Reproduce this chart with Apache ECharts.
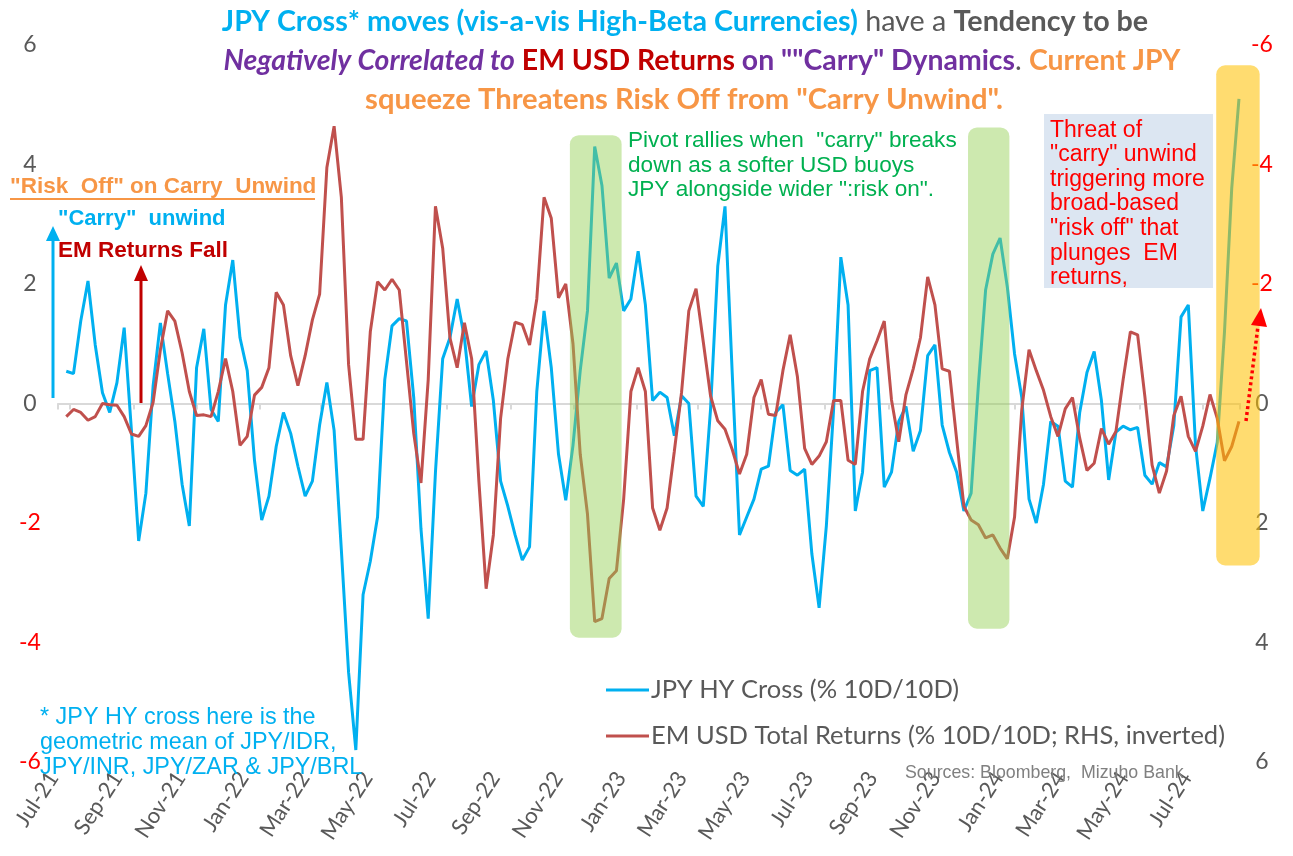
<!DOCTYPE html>
<html>
<head>
<meta charset="utf-8">
<script src="https://cdn.jsdelivr.net/npm/echarts@6/dist/echarts.min.js"></script>
<style>
  html, body { margin: 0; padding: 0; background: #ffffff; }
  #chart { width: 1293px; height: 856px; }
</style>
</head>
<body>
<div id="chart"></div>
<script>
// ---------------- DATA ----------------
// weekly observations, first one on 28 Jun 2021, one every 7 days
const firstObservation = [2021, 5, 28];
const observationStepDays = 7;

// JPY HY Cross (% 10D/10D) - left axis
const jpyHyCross = [
  0.54, 0.5, 1.38, 2.05, 0.98, 0.18, -0.15, 0.35, 1.27, -0.45,
  -2.3, -1.5, 0.3, 1.35, 0.5, -0.3, -1.35, -2.05, 0.6, 1.25,
  -0.1, -0.3, 1.65, 2.4, 1.1, 0.55, -0.95, -1.95, -1.55, -0.72,
  -0.15, -0.5, -1.05, -1.55, -1.3, -0.36, 0.35, -0.45, -2.45, -4.5,
  -5.8, -3.2, -2.64, -1.9, 0.4, 1.3, 1.42, 1.38, 0.1, -2.1,
  -3.6, -1.15, 0.75, 1.1, 1.75, 1.1, -0.05, 0.65, 0.88, 0.05,
  -1.3, -1.72, -2.2, -2.62, -2.4, 0.2, 1.55, 0.6, -0.85, -1.62,
  -0.7, 0.55, 1.55, 4.3, 3.65, 2.1, 2.35, 1.55, 1.75, 2.55,
  1.65, 0.05, 0.19, 0.1, -0.54, 0.13, 0.0, -1.55, -1.72, -0.1,
  2.3, 3.3, 0.5, -2.2, -1.9, -1.6, -1.1, -1.05, -0.15, -0.02,
  -1.12, -1.2, -1.1, -2.52, -3.42, -2.05, -0.1, 2.45, 1.65, -1.8,
  -1.15, 0.55, 0.6, -1.4, -1.15, -0.3, -0.05, -0.8, -0.45, 0.8,
  0.98, -0.36, -0.82, -1.15, -1.8, -1.5, 0.3, 1.9, 2.5, 2.77,
  1.95, 0.83, 0.1, -1.6, -2.0, -1.35, -0.3, -0.38, -1.3, -1.4,
  -0.15, 0.52, 0.87, 0.05, -1.28, -0.48, -0.38, -0.44, -0.4, -1.2,
  -1.35, -0.99, -1.06, -0.37, 1.45, 1.65, -0.7, -1.8, -1.25, -0.65,
  1.2, 3.6, 5.1
];

// EM USD Total Returns (% 10D/10D) - right axis, inverted
const emUsdTotalReturns = [
  0.22, 0.1, 0.15, 0.28, 0.22, 0.0, 0.02, 0.03, 0.22, 0.51,
  0.55, 0.37, -0.02, -0.9, -1.55, -1.38, -0.85, -0.2, 0.2, 0.19,
  0.22, -0.2, -0.75, -0.2, 0.7, 0.55, -0.14, -0.27, -0.6, -1.86,
  -1.65, -0.8, -0.3, -0.8, -1.4, -1.83, -3.95, -4.64, -3.45, -0.65,
  0.6, 0.6, -1.2, -2.04, -1.9, -2.08, -1.9, -0.7, 0.5, 1.33,
  -0.4, -3.3, -2.6, -1.1, -0.6, -1.35, -0.75, 1.3, 3.1, 2.2,
  0.25, -0.75, -1.36, -1.32, -0.98, -1.75, -3.45, -3.1, -1.77, -2.0,
  -1.0, 0.85, 1.85, 3.65, 3.6, 2.93, 2.8, 1.6, -0.2, -0.6,
  -0.2, 1.75, 2.12, 1.75, 0.8, -0.19, -1.55, -1.92, -1.03, -0.13,
  0.29, 0.43, 0.77, 1.18, 0.85, -0.1, -0.4, 0.18, 0.2, -0.55,
  -1.15, -0.45, 0.75, 1.02, 0.88, 0.64, -0.05, -0.05, 0.95, 1.02,
  -0.2, -0.75, -1.05, -1.38, -0.06, 0.64, -0.15, -0.58, -1.1, -2.12,
  -1.65, -0.58, -0.54, 0.6, 1.72, 1.95, 2.03, 2.25, 2.2, 2.42,
  2.6, 1.9, 0.1, -0.9, -0.55, -0.22, 0.22, 0.55, 0.09, -0.1,
  0.58, 1.12, 1.0, 0.42, 0.68, 0.47, -0.4, -1.2, -1.15, -0.12,
  1.03, 1.5, 1.13, 0.2, -0.12, 0.55, 0.8, 0.38, -0.15, 0.25,
  0.96, 0.72, 0.3
];

const seriesNames = ['JPY HY Cross (% 10D/10D)', 'EM USD Total Returns (% 10D/10D; RHS, inverted)'];
const monthNames = ['Jan','Feb','Mar','Apr','May','Jun','Jul','Aug','Sep','Oct','Nov','Dec'];
const axisStartDate = '2021-06-20';
const axisEndDate = '2024-08-06';
const yTicks = [-6, -4, -2, 0, 2, 4, 6];

// shaded episodes: [from, to, lower value, upper value] on the left axis
const pivotBoxes = [
  ['2022-10-28', '2022-12-17', -3.92, 4.49],
  ['2023-11-17', '2023-12-27', -3.77, 4.62]
];
const unwindBoxes = [
  ['2024-07-14', '2024-08-25', -2.71, 5.66]
];

// ---------------- HELPERS ----------------
function ts(str) {
  const p = str.split('-').map(Number);
  return new Date(p[0], p[1] - 1, p[2]).getTime();
}
function obsTime(i) {
  return new Date(firstObservation[0], firstObservation[1], firstObservation[2] + observationStepDays * i).getTime();
}
const jpyData = jpyHyCross.map((v, i) => [obsTime(i), v]);
const emData = emUsdTotalReturns.map((v, i) => [obsTime(i), v]);
const boxData = (arr) => arr.map(b => [ts(b[0]), ts(b[1]), b[2], b[3]]);

function boxRenderer(color) {
  return function (params, api) {
    const p0 = api.coord([api.value(0), api.value(3)]);
    const p1 = api.coord([api.value(1), api.value(2)]);
    return {
      type: 'rect',
      shape: { x: p0[0], y: p0[1], width: p1[0] - p0[0], height: p1[1] - p0[1], r: 9 },
      style: { fill: color }
    };
  };
}

const DAY = 86400000;
const timeAxisBase = {
  type: 'time',
  min: ts(axisStartDate),
  max: ts(axisEndDate),
  splitNumber: 18,
  minInterval: 61 * DAY,
  splitLine: { show: false }
};

function yLabelFormatter(v) {
  return v < 0 ? '{r|' + v + '}' : '{g|' + v + '}';
}
const yRich = {
  r: { color: '#FF0000', fontFamily: 'Lato', fontSize: 23 },
  g: { color: '#595959', fontFamily: 'Lato', fontSize: 23 }
};

const SANS = 'Liberation Sans';
const TITLE_FS = 28.7;

const option = {
  backgroundColor: '#ffffff',
  animation: false,
  grid: [
    { left: 58, right: 53, top: 45, bottom: 94, containLabel: false },
    // label strip: Excel draws the slanted month labels slightly ahead of their ticks
    { left: 42, right: 69, top: 45, bottom: 94, containLabel: false }
  ],
  xAxis: [
    Object.assign({}, timeAxisBase, {
      gridIndex: 0,
      axisLine: { show: true, onZero: true, lineStyle: { color: '#D9D9D9', width: 2 } },
      axisTick: { show: true, length: 6, lineStyle: { color: '#D9D9D9', width: 2 } },
      axisLabel: { show: false }
    }),
    Object.assign({}, timeAxisBase, {
      gridIndex: 1,
      position: 'bottom',
      axisLine: { show: false, onZero: false },
      axisTick: { show: false },
      axisLabel: {
        show: true,
        rotate: 57,
        margin: 12,
        fontFamily: 'Lato',
        fontSize: 22,
        color: '#595959',
        formatter: function (value) {
          const d = new Date(value);
          return monthNames[d.getMonth()] + '-' + String(d.getFullYear()).slice(2);
        }
      }
    })
  ],
  yAxis: [
    {
      type: 'value', gridIndex: 0, min: yTicks[0], max: yTicks[yTicks.length - 1], interval: 2, position: 'left',
      axisLine: { show: false }, axisTick: { show: false }, splitLine: { show: false },
      axisLabel: { align: 'center', margin: 28, formatter: yLabelFormatter, rich: yRich }
    },
    {
      type: 'value', gridIndex: 0, min: yTicks[0], max: yTicks[yTicks.length - 1], interval: 2, position: 'right', inverse: true,
      axisLine: { show: false }, axisTick: { show: false }, splitLine: { show: false },
      axisLabel: { align: 'center', margin: 22, formatter: yLabelFormatter, rich: yRich }
    },
    {
      type: 'value', gridIndex: 1, min: yTicks[0], max: yTicks[yTicks.length - 1], show: false
    }
  ],
  legend: {
    data: seriesNames,
    orient: 'vertical',
    left: 601,
    top: 672,
    icon: 'rect',
    itemWidth: 43,
    itemHeight: 3,
    itemGap: 20,
    textStyle: { fontFamily: 'Lato', fontSize: 25.5, color: '#595959', padding: [0, 0, 0, -3] }
  },
  series: [
    {
      name: seriesNames[0], type: 'line', xAxisIndex: 0, yAxisIndex: 0,
      data: jpyData, showSymbol: false, symbol: 'none',
      lineStyle: { color: '#00B0F0', width: 3 }, itemStyle: { color: '#00B0F0' }, z: 2
    },
    {
      name: seriesNames[1], type: 'line', xAxisIndex: 0, yAxisIndex: 1,
      data: emData, showSymbol: false, symbol: 'none',
      lineStyle: { color: '#C0504D', width: 3 }, itemStyle: { color: '#C0504D' }, z: 3
    },
    {
      type: 'custom', xAxisIndex: 0, yAxisIndex: 0, silent: true, clip: false, z: 10,
      data: boxData(pivotBoxes), encode: { x: [0, 1], y: [2, 3] },
      renderItem: boxRenderer('rgba(146, 208, 80, 0.46)')
    },
    {
      type: 'custom', xAxisIndex: 0, yAxisIndex: 0, silent: true, clip: false, z: 10,
      data: boxData(unwindBoxes), encode: { x: [0, 1], y: [2, 3] },
      renderItem: boxRenderer('rgba(255, 192, 0, 0.56)')
    }
  ],
  graphic: {
    elements: [
      // title
      {
        type: 'text', z: 100, x: 685, y: 22,
        style: {
          text: '{c|JPY Cross* moves (vis-a-vis High-Beta Currencies)}{n| have a }{g|Tendency to be}',
          align: 'center', verticalAlign: 'middle',
          rich: {
            c: { fill: '#00B0F0', fontFamily: 'Lato', fontWeight: 'bold', fontSize: TITLE_FS },
            n: { fill: '#595959', fontFamily: 'Lato', fontSize: TITLE_FS },
            g: { fill: '#595959', fontFamily: 'Lato', fontWeight: 'bold', fontSize: TITLE_FS }
          }
        }
      },
      {
        type: 'text', z: 100, x: 702, y: 61,
        style: {
          text: '{pi|Negatively Correlated to}{r| EM USD Returns}{p| on ""Carry" Dynamics}{n|. }{o|Current JPY}',
          align: 'center', verticalAlign: 'middle',
          rich: {
            pi: { fill: '#7030A0', fontFamily: 'Lato', fontWeight: 'bold', fontStyle: 'italic', fontSize: 28.4 },
            r: { fill: '#C00000', fontFamily: 'Lato', fontWeight: 'bold', fontSize: 28.4 },
            p: { fill: '#7030A0', fontFamily: 'Lato', fontWeight: 'bold', fontSize: 28.4 },
            n: { fill: '#595959', fontFamily: 'Lato', fontSize: 28.4 },
            o: { fill: '#F79646', fontFamily: 'Lato', fontWeight: 'bold', fontSize: 28.4 }
          }
        }
      },
      {
        type: 'text', z: 100, x: 684, y: 100,
        style: {
          text: 'squeeze Threatens Risk Off from "Carry Unwind".',
          align: 'center', verticalAlign: 'middle',
          fill: '#F79646', fontFamily: 'Lato', fontWeight: 'bold', fontSize: 29.2
        }
      },
      // left annotations
      {
        type: 'text', z: 100, x: 10, y: 187,
        style: { text: '"Risk  Off" on Carry  Unwind', fill: '#F79646', fontFamily: SANS, fontWeight: 'bold', fontSize: 22.5, verticalAlign: 'middle' }
      },
      { type: 'line', z: 100, shape: { x1: 10, y1: 199, x2: 315, y2: 199 }, style: { stroke: '#F79646', lineWidth: 2 } },
      {
        type: 'text', z: 100, x: 58, y: 219,
        style: { text: '"Carry"  unwind', fill: '#00B0F0', fontFamily: SANS, fontWeight: 'bold', fontSize: 22, verticalAlign: 'middle' }
      },
      {
        type: 'text', z: 100, x: 58, y: 251,
        style: { text: 'EM Returns Fall', fill: '#C00000', fontFamily: SANS, fontWeight: 'bold', fontSize: 22.5, verticalAlign: 'middle' }
      },
      { type: 'line', z: 100, shape: { x1: 53, y1: 398, x2: 53, y2: 238 }, style: { stroke: '#00B0F0', lineWidth: 3 } },
      { type: 'polygon', z: 100, shape: { points: [[46, 241], [60, 241], [53, 226]] }, style: { fill: '#00B0F0' } },
      { type: 'line', z: 100, shape: { x1: 141, y1: 403, x2: 141, y2: 278 }, style: { stroke: '#C00000', lineWidth: 3 } },
      { type: 'polygon', z: 100, shape: { points: [[134, 281], [148, 281], [141, 265]] }, style: { fill: '#C00000' } },
      // pivot text
      {
        type: 'text', z: 100, x: 628, y: 129,
        style: {
          text: 'Pivot rallies when  "carry" breaks\ndown as a softer USD buoys\nJPY alongside wider ":risk on".',
          fill: '#00B050', fontFamily: SANS, fontSize: 22.6, lineHeight: 24.5
        }
      },
      // threat box
      { type: 'rect', z: 99, shape: { x: 1044, y: 114, width: 169, height: 174 }, style: { fill: '#DCE6F2' } },
      {
        type: 'text', z: 100, x: 1050, y: 118,
        style: {
          text: 'Threat of\n"carry" unwind\ntriggering more\nbroad-based\n"risk off" that\nplunges  EM\nreturns,',
          fill: '#FF0000', fontFamily: SANS, fontSize: 23, lineHeight: 24.6
        }
      },
      // dotted arrow
      { type: 'line', z: 100, shape: { x1: 1246, y1: 421, x2: 1258, y2: 326 }, style: { stroke: '#FF0000', lineWidth: 3.5, lineDash: [3, 3] } },
      { type: 'polygon', z: 100, shape: { points: [[1251, 325], [1267, 327], [1261, 308]] }, style: { fill: '#FF0000' } },
      // footnote
      {
        type: 'text', z: 100, x: 40, y: 705,
        style: {
          text: '* JPY HY cross here is the\ngeometric mean of JPY/IDR,\nJPY/INR, JPY/ZAR & JPY/BRL',
          fill: '#00B0F0', fontFamily: SANS, fontSize: 23.4, lineHeight: 25
        }
      },
      // sources
      {
        type: 'text', z: 100, x: 905, y: 773,
        style: { text: 'Sources: Bloomberg,  Mizuho Bank', fill: '#808080', fontFamily: SANS, fontSize: 17.8, verticalAlign: 'middle' }
      }
    ]
  }
};

const chart = echarts.init(document.getElementById('chart'), null, { renderer: 'canvas' });
chart.setOption(option);
</script>
</body>
</html>
